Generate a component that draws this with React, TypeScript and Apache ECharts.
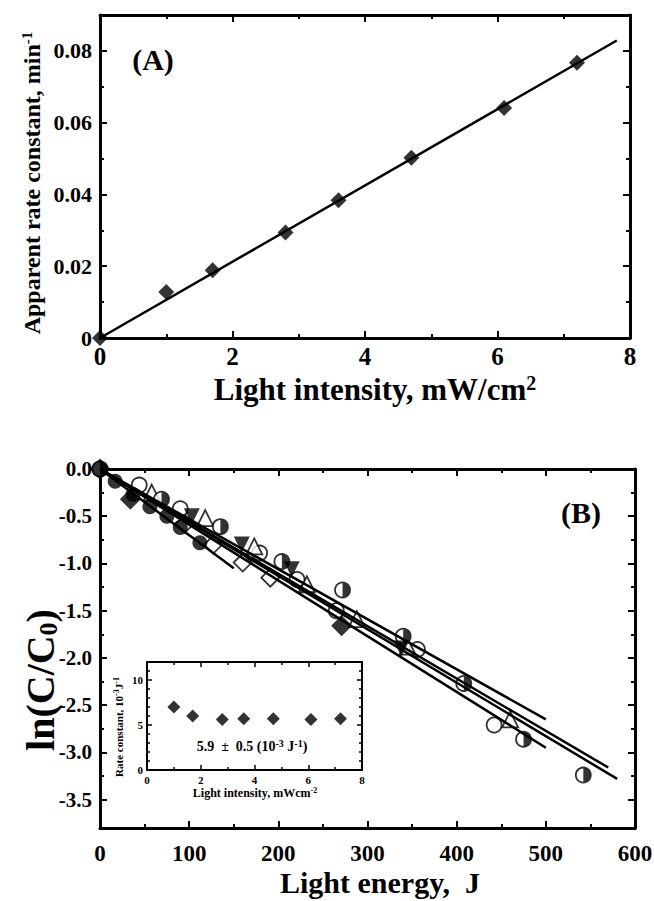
import React, { useEffect, useRef } from 'react';
import * as echarts from 'echarts';

const FF = '"Liberation Serif", "Times New Roman", Times, serif';

// ---------- Panel A ----------
const intensityA = [0, 1.0, 1.7, 2.8, 3.6, 4.7, 6.1, 7.2];
const rateA = [0, 0.0128, 0.0189, 0.0294, 0.0384, 0.0502, 0.0641, 0.0767];
const fitAX = [0, 7.8];
const fitAY = [0, 0.0829];
const xMajorA = [0, 2, 4, 6, 8];
const xMinorA = [1, 3, 5, 7];
const yMajorA = [0, 0.02, 0.04, 0.06, 0.08];
const yMinorA = [0.01, 0.03, 0.05, 0.07];

// ---------- Panel B ----------
const filledCircleE = [17, 37, 56, 75, 90, 112];
const filledCircleV = [-0.13, -0.27, -0.4, -0.5, -0.62, -0.78];
const openDiamondE = [95, 127, 160, 191];
const openDiamondV = [-0.58, -0.8, -0.99, -1.15];
const filledDiamondE = [0, 34, 271];
const filledDiamondV = [0, -0.32, -1.66];
const openCircleE = [0, 44, 90, 179, 221, 265, 356, 442];
const openCircleV = [0, -0.17, -0.42, -0.89, -1.17, -1.5, -1.91, -2.71];
const filledTriE = [103, 159, 215, 338];
const filledTriV = [-0.5, -0.8, -1.06, -1.9];
const openTriE = [58, 118, 173, 232, 288, 345, 460];
const openTriV = [-0.25, -0.52, -0.82, -1.22, -1.59, -1.88, -2.65];
const halfCircleE = [0, 69, 135, 204, 272, 340, 408, 475, 542];
const halfCircleV = [0, -0.32, -0.61, -0.98, -1.28, -1.77, -2.27, -2.86, -3.24];
// fitted lines (through origin) end points
const fitBEndE = [150, 500, 500, 570, 580];
const fitBEndV = [-1.05, -2.65, -2.95, -3.16, -3.28];
const xMajorB = [0, 100, 200, 300, 400, 500, 600];
const xMinorB = [50, 150, 250, 350, 450, 550];
const yMajorB = [0, -0.5, -1, -1.5, -2, -2.5, -3, -3.5];
const yMinorB = [-0.25, -0.75, -1.25, -1.75, -2.25, -2.75, -3.25];

// ---------- Inset ----------
const insetIntensity = [1.0, 1.7, 2.8, 3.6, 4.7, 6.1, 7.2];
const insetRate = [7.0, 6.0, 5.6, 5.7, 5.7, 5.6, 5.7];
const xMajorI = [0, 2, 4, 6, 8];
const xMinorI = [1, 3, 5, 7];
const yMajorI = [0, 5, 10];
const yMinorI = [1, 2, 3, 4, 6, 7, 8, 9, 11];

type Spec = {
  min: number; max: number; major: number[]; minor: number[];
  fmt: (v: number) => string; labelSize: number; lineW: number;
  majorLen: number; minorLen: number; margin: number; tickW: number;
};

function addAxes(list: any[], grid: number, positions: string[], s: Spec) {
  const primary = list.length;
  positions.forEach((pos, i) => {
    list.push({
      type: 'value', gridIndex: grid, min: s.min, max: s.max, position: pos, offset: 0,
      axisLine: { show: true, onZero: false, lineStyle: { color: '#000', width: s.lineW } },
      axisTick: { show: true, inside: true, length: s.majorLen, customValues: s.major, lineStyle: { color: '#000', width: s.tickW } },
      axisLabel: i === 0
        ? { show: true, customValues: s.major, formatter: (v: number) => s.fmt(v), color: '#000', fontFamily: FF, fontWeight: 'bold', fontSize: s.labelSize, margin: s.margin }
        : { show: false },
      splitLine: { show: false }, minorTick: { show: false }, minorSplitLine: { show: false },
    });
    list.push({
      type: 'value', gridIndex: grid, min: s.min, max: s.max, position: pos, offset: 0,
      axisLine: { show: false, onZero: false },
      axisTick: { show: true, inside: true, length: s.minorLen, customValues: s.minor, lineStyle: { color: '#000', width: s.tickW } },
      axisLabel: { show: false },
      splitLine: { show: false }, minorTick: { show: false }, minorSplitLine: { show: false },
    });
  });
  return primary;
}

function buildOption() {
  const xAxes: any[] = [];
  const yAxes: any[] = [];
  const axA = addAxes(xAxes, 0, ['bottom', 'top'], {
    min: 0, max: 8, major: xMajorA, minor: xMinorA, fmt: (v) => String(v),
    labelSize: 25, lineW: 3, majorLen: 7, minorLen: 4, margin: 6, tickW: 2,
  });
  const ayA = addAxes(yAxes, 0, ['left', 'right'], {
    min: 0, max: 0.09, major: yMajorA, minor: yMinorA, fmt: (v) => (v === 0 ? '0' : v.toFixed(2)),
    labelSize: 22, lineW: 3, majorLen: 7, minorLen: 4, margin: 8, tickW: 2,
  });
  const axB = addAxes(xAxes, 1, ['bottom', 'top'], {
    min: 0, max: 600, major: xMajorB, minor: xMinorB, fmt: (v) => String(v),
    labelSize: 23, lineW: 3, majorLen: 7, minorLen: 4, margin: 14, tickW: 2,
  });
  const ayB = addAxes(yAxes, 1, ['left', 'right'], {
    min: -3.8, max: 0, major: yMajorB, minor: yMinorB, fmt: (v) => v.toFixed(1),
    labelSize: 21, lineW: 3, majorLen: 7, minorLen: 4, margin: 8, tickW: 2,
  });
  const axI = addAxes(xAxes, 2, ['bottom', 'top'], {
    min: 0, max: 8, major: xMajorI, minor: xMinorI, fmt: (v) => String(v),
    labelSize: 11, lineW: 2, majorLen: 5, minorLen: 3, margin: 4, tickW: 1.5,
  });
  const ayI = addAxes(yAxes, 2, ['left', 'right'], {
    min: 0, max: 12, major: yMajorI, minor: yMinorI, fmt: (v) => String(v),
    labelSize: 11, lineW: 2, majorLen: 5, minorLen: 3, margin: 4, tickW: 1.5,
  });

  const zip = (a: number[], b: number[]) => a.map((v, i) => [v, b[i]]);
  const B = { xAxisIndex: axB, yAxisIndex: ayB };

  const series: any[] = [];
  // Panel A
  series.push({
    type: 'line', xAxisIndex: axA, yAxisIndex: ayA, data: zip(fitAX, fitAY),
    symbol: 'none', lineStyle: { color: '#000', width: 2.5 }, silent: true, clip: false,
  });
  series.push({
    type: 'scatter', xAxisIndex: axA, yAxisIndex: ayA, data: zip(intensityA, rateA),
    symbol: 'diamond', symbolSize: 16, itemStyle: { color: '#000' }, clip: false,
  });
  // Panel B lines
  fitBEndE.forEach((e, i) => {
    series.push({
      type: 'line', ...B, data: [[0, 0], [e, fitBEndV[i]]], symbol: 'none',
      lineStyle: { color: '#000', width: 2.5 }, silent: true,
    });
  });
  const open = { color: '#fff', borderColor: '#000', borderWidth: 1.8 };
  series.push({ type: 'scatter', ...B, data: zip(openDiamondE, openDiamondV), symbol: 'diamond', symbolSize: 18, itemStyle: open, clip: false });
  series.push({ type: 'scatter', ...B, data: zip(openCircleE, openCircleV), symbol: 'circle', symbolSize: 15, itemStyle: open, clip: false });
  series.push({ type: 'scatter', ...B, data: zip(openTriE, openTriV), symbol: 'triangle', symbolSize: 16, itemStyle: open, clip: false });
  series.push({ type: 'scatter', ...B, data: zip(halfCircleE, halfCircleV), symbol: 'circle', symbolSize: 15, itemStyle: open, clip: false });
  series.push({
    type: 'scatter', ...B, data: zip(halfCircleE, halfCircleV),
    symbol: 'path://M0,-10 A10,10 0 0 1 0,10 Z', symbolKeepAspect: true, symbolSize: 14,
    symbolOffset: [3.5, 0], itemStyle: { color: '#000' }, clip: false,
  });
  series.push({ type: 'scatter', ...B, data: zip(filledTriE, filledTriV), symbol: 'triangle', symbolRotate: 180, symbolSize: 16, itemStyle: { color: '#000' }, clip: false });
  series.push({ type: 'scatter', ...B, data: zip(filledCircleE, filledCircleV), symbol: 'circle', symbolSize: 15, itemStyle: { color: '#000' }, clip: false });
  series.push({ type: 'scatter', ...B, data: zip(filledDiamondE, filledDiamondV), symbol: 'diamond', symbolSize: 21, itemStyle: { color: '#000' }, clip: false });
  // Inset
  series.push({
    type: 'scatter', xAxisIndex: axI, yAxisIndex: ayI, data: zip(insetIntensity, insetRate),
    symbol: 'diamond', symbolSize: 13, itemStyle: { color: '#000' }, clip: false,
  });

  const t = (x: number, y: number, text: string, size: number, extra: any = {}) => ({
    type: 'text', x, y, z: 100, ...extra,
    style: {
      text, fill: '#000', font: `bold ${size}px ${FF}`,
      textAlign: 'center', textVerticalAlign: 'middle', align: 'center', verticalAlign: 'middle',
      ...(extra.style || {}),
    },
  });
  const rich = (main: number, sup: number) => ({
    a: { fontSize: main, fontWeight: 'bold', fontFamily: FF, fill: '#000', lineHeight: main + 2 },
    s: { fontSize: sup, fontWeight: 'bold', fontFamily: FF, fill: '#000', verticalAlign: 'top', lineHeight: sup },
    d: { fontSize: sup, fontWeight: 'bold', fontFamily: FF, fill: '#000', verticalAlign: 'bottom', lineHeight: sup },
  });

  const graphic: any[] = [
    t(153, 59, '(A)', 30),
    t(581, 512, '(B)', 30),
    t(32, 183, '{a|Apparent rate constant, min}{s|-1}', 24, { rotation: Math.PI / 2, style: { rich: rich(24, 15) } }),
    t(375, 389, '{a|Light intensity, mW/cm}{s|2}', 31, { style: { rich: rich(31, 20) } }),
    t(380, 882, 'Light energy,  J', 30),
    t(40, 680, '{a|ln(C/C}{d|0}{a|)}', 40, { rotation: Math.PI / 2, style: { rich: rich(40, 26) } }),
    t(119, 727, '{a|Rate constant, 10}{s|-3}{a|J}{s|-1}', 11, { rotation: Math.PI / 2, style: { rich: rich(11, 8) } }),
    t(255, 793, '{a|Light intensity, mWcm}{s|-2}', 12, { style: { rich: rich(12, 8) } }),
    t(252, 746, '{a|5.9  \u00b1  0.5 (10}{s|-3}{a| J}{s|-1}{a|)}', 14, { style: { rich: rich(14, 10) } }),
  ];

  return {
    animation: false,
    backgroundColor: '#fff',
    grid: [
      { left: 100, top: 15, width: 530, height: 323, containLabel: false, outerBoundsMode: 'none' },
      { left: 100, top: 469, width: 535, height: 359, containLabel: false, outerBoundsMode: 'none' },
      { left: 147, top: 662, width: 215, height: 108, containLabel: false, outerBoundsMode: 'none' },
    ],
    xAxis: xAxes,
    yAxis: yAxes,
    series,
    graphic,
  };
}

export default function App() {
  const ref = useRef<HTMLDivElement>(null);
  useEffect(() => {
    if (!ref.current) return;
    const chart = echarts.init(ref.current, undefined, { renderer: 'svg' });
    chart.setOption(buildOption() as any);
    return () => chart.dispose();
  }, []);
  return (
    <div
      ref={ref}
      style={{ position: 'absolute', left: 0, top: 0, width: 654, height: 901, background: '#fff' }}
    />
  );
}
